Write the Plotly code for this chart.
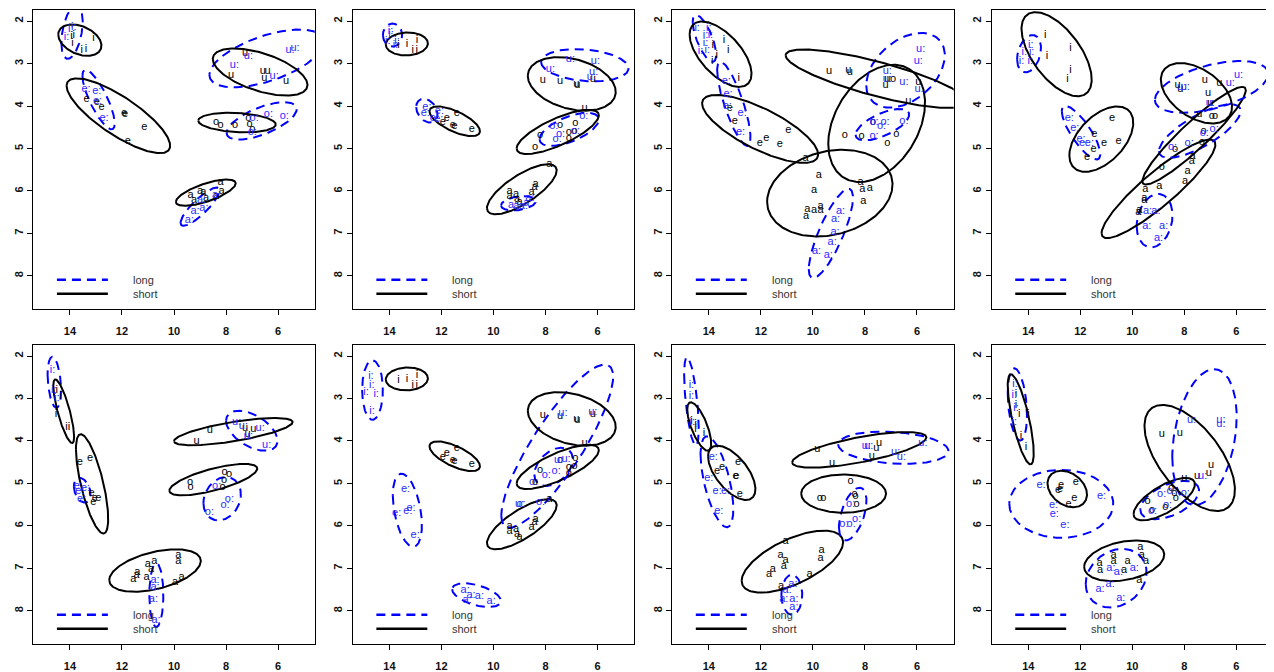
import numpy as np
import plotly.graph_objects as go

VOWELS = ["i", "e", "a", "o", "u"]
X_TICKS = [14, 12, 10, 8, 6]
Y_TICKS = [2, 3, 4, 5, 6, 7, 8]
X_RANGE = [15.41, 4.59]
Y_RANGE = [8.77, 1.74]
LEGEND_LABELS = ["long", "short"]

# ---------- Panel 1 ----------
p1_short = {
    "i": ([13.94, 13.85, 13.90, 13.10, 13.55, 13.38], [2.37, 2.33, 2.52, 2.41, 2.68, 2.66]),
    "e": ([13.36, 12.97, 12.78, 11.92, 11.88, 11.14, 11.78], [3.83, 3.91, 4.02, 4.16, 4.19, 4.50, 4.83]),
    "a": ([9.36, 9.0, 8.87, 8.21, 8.17, 8.77, 9.23, 8.38], [6.09, 6.0, 6.02, 5.80, 6.0, 6.18, 6.22, 6.12]),
    "o": ([8.38, 8.21, 7.65, 7.14, 7.10, 6.99], [4.38, 4.45, 4.46, 4.28, 4.44, 4.55]),
    "u": ([7.27, 7.81, 6.59, 6.40, 6.53, 5.69], [2.76, 3.28, 3.19, 3.19, 3.34, 3.42]),
}
p1_long = {
    "i": ([13.97, 13.85, 14.13], [2.20, 2.15, 2.38]),
    "e": ([13.38, 12.97, 12.94, 12.69], [3.60, 3.66, 3.90, 4.28]),
    "a": ([8.94, 9.19, 9.41, 8.85, 8.36], [6.23, 6.48, 6.69, 6.41, 6.10]),
    "o": ([6.37, 5.76, 6.92, 6.99], [4.20, 4.24, 4.30, 4.62]),
    "u": ([5.54, 5.35, 7.68, 7.14, 6.15], [2.68, 2.64, 3.05, 2.84, 3.30]),
}
# ellipse: centre x, centre y, half-width x, half-height y, correlation
p1_ell_short = {"i": (13.62, 2.45, 0.83, 0.37, -0.35), "e": (12.14, 4.23, 1.99, 0.88, -0.8),
                "a": (8.78, 6.04, 1.15, 0.31, 0.7), "o": (7.58, 4.39, 1.49, 0.23, -0.2),
                "u": (6.69, 3.20, 1.82, 0.555, -0.55)}
p1_ell_long = {"i": (13.92, 2.26, 0.41, 0.63, 0.4), "e": (12.9, 3.85, 0.62, 0.70, -0.8),
               "a": (9.0, 6.37, 0.75, 0.45, 0.85), "o": (6.63, 4.35, 1.35, 0.44, 0.64),
               "u": (6.44, 2.88, 2.2, 0.68, 0.57)}

# ---------- Panel 2 ----------
p2_short = {
    "i": ([13.65, 13.32, 13.10, 12.94, 12.95], [2.56, 2.55, 2.68, 2.46, 2.68]),
    "e": ([11.41, 11.79, 11.95, 11.56, 11.50, 10.83], [4.16, 4.30, 4.38, 4.46, 4.48, 4.55]),
    "a": ([9.38, 9.38, 9.13, 9.09, 9.0, 8.54, 8.42, 8.38, 7.85], [6.0, 6.12, 6.08, 6.20, 6.27, 6.04, 5.92, 5.84, 5.38]),
    "o": ([8.21, 8.40, 7.44, 7.10, 6.85, 7.10, 6.88], [4.69, 4.97, 4.46, 4.62, 4.40, 4.77, 4.59]),
    "u": ([8.10, 7.44, 6.82, 6.78, 6.18, 6.50], [3.40, 3.42, 3.48, 3.51, 3.36, 4.05]),
}
p2_long = {
    "i": ([13.96, 13.94, 13.71, 14.06, 13.77], [2.25, 2.31, 2.48, 2.47, 2.56]),
    "e": ([12.56, 12.62, 12.27, 12.08, 12.10], [4.02, 4.18, 4.28, 4.13, 4.32]),
    "a": ([9.26, 9.06, 8.85, 8.68, 8.60], [6.34, 6.37, 6.35, 6.29, 6.16]),
    "o": ([7.68, 7.42, 7.55, 6.85, 6.53], [4.48, 4.67, 4.79, 4.59, 4.24]),
    "u": ([7.81, 7.04, 6.08, 6.15, 6.24], [3.13, 2.91, 2.94, 3.21, 3.32]),
}
p2_ell_short = {"i": (13.33, 2.54, 0.81, 0.27, 0.05), "e": (11.49, 4.36, 0.97, 0.35, -0.67),
                "a": (8.91, 5.96, 1.34, 0.59, 0.75), "o": (7.53, 4.61, 1.58, 0.52, 0.75),
                "u": (6.99, 3.48, 1.69, 0.63, -0.3)}
p2_ell_long = {"i": (13.88, 2.33, 0.37, 0.27, 0.0), "e": (12.56, 4.11, 0.41, 0.28, -0.3),
               "a": (9.04, 6.29, 0.67, 0.17, 0.3), "o": (7.09, 4.55, 1.14, 0.39, 0.6),
               "u": (6.49, 3.04, 1.68, 0.38, -0.2)}

# ---------- Panel 3 ----------
p3_short = {
    "i": ([13.42, 13.26, 13.85, 13.87, 12.85, 13.70], [2.45, 2.68, 2.56, 2.95, 3.34, 2.80]),
    "e": ([13.19, 13.0, 12.04, 11.79, 11.27, 10.95], [4.06, 4.36, 4.88, 4.75, 4.91, 4.57]),
    "a": ([10.28, 9.77, 9.96, 10.22, 9.96, 9.71, 9.71, 10.26, 8.17, 8.10, 7.81, 8.06],
          [5.22, 5.63, 5.98, 6.43, 6.45, 6.45, 6.37, 6.60, 5.79, 5.95, 5.93, 6.25]),
    "o": ([8.77, 8.13, 7.69, 7.14, 6.79, 6.92], [4.70, 4.71, 4.38, 4.88, 4.67, 3.36]),
    "u": ([9.38, 8.64, 8.58, 7.21, 5.95, 6.33, 7.14], [3.19, 3.16, 3.21, 3.52, 3.44, 3.88, 3.36]),
}
p3_long = {
    "i": ([14.0, 14.45, 14.13, 13.94, 14.13, 14.32, 14.06], [2.17, 2.17, 2.33, 2.33, 2.52, 2.72, 2.68]),
    "e": ([13.33, 13.26, 13.29, 12.72, 12.78], [3.42, 3.72, 4.01, 4.16, 4.61]),
    "a": ([8.94, 9.13, 9.15, 9.26, 9.86, 9.41], [6.47, 6.66, 6.98, 7.21, 7.43, 7.51]),
    "o": ([7.65, 7.36, 7.23, 6.50, 7.65], [4.38, 4.48, 4.38, 4.36, 4.71]),
    "u": ([5.86, 5.95, 7.14, 7.14, 6.50, 5.92], [2.66, 2.95, 3.19, 3.36, 3.45, 3.60]),
}
p3_ell_short = {"i": (13.55, 2.78, 1.19, 0.77, -0.6), "e": (12.03, 4.54, 2.23, 0.80, -0.75),
                "a": (9.35, 6.05, 2.41, 1.02, 0.2), "o": (7.55, 4.41, 1.86, 1.38, 0.35),
                "u": (7.55, 3.36, 3.5, 0.69, -0.8)}
p3_ell_long = {"i": (14.17, 2.41, 0.45, 0.55, -0.7), "e": (13.04, 3.95, 0.64, 0.99, -0.8),
               "a": (9.31, 7.0, 0.85, 1.05, 0.8), "o": (7.33, 4.44, 1.03, 0.37, 0.64),
               "u": (6.44, 3.16, 1.51, 0.88, 0.4)}

# ---------- Panel 4 ----------
p4_short = {
    "i": ([13.35, 12.38, 13.28, 12.38, 12.49], [2.33, 2.63, 2.84, 3.17, 3.38]),
    "e": ([10.78, 11.46, 11.49, 11.08, 10.53, 11.74], [4.28, 4.67, 5.02, 4.87, 4.83, 5.20]),
    "a": ([7.68, 7.71, 7.87, 7.97, 8.96, 9.50, 9.54, 9.54, 9.73, 9.77],
          [5.18, 5.31, 5.53, 5.77, 5.88, 5.95, 6.18, 6.23, 6.45, 6.51]),
    "o": ([8.35, 8.86, 7.26, 6.81, 6.94, 7.32], [5.02, 5.44, 4.59, 4.24, 4.24, 4.85]),
    "u": ([7.21, 7.08, 8.26, 8.15, 6.65, 7.0, 7.42], [3.40, 3.71, 3.52, 3.60, 3.46, 3.93, 4.19]),
}
p4_long = {
    "i": ([13.90, 14.15, 13.87, 14.26, 13.92], [2.56, 2.74, 2.74, 2.95, 2.95]),
    "e": ([12.42, 12.21, 11.97, 11.87, 11.65], [4.28, 4.52, 4.79, 4.88, 4.87]),
    "a": ([9.41, 9.09, 9.44, 8.79, 8.99], [6.47, 6.47, 6.82, 6.82, 7.12]),
    "o": ([8.45, 7.81, 7.23, 6.85], [4.98, 4.87, 4.63, 4.55]),
    "u": ([5.91, 6.23, 7.96, 8.10, 7.0], [3.27, 3.46, 3.55, 3.55, 3.93]),
}
p4_ell_short = {"i": (12.91, 2.78, 1.35, 0.99, -0.6), "e": (11.19, 4.78, 1.23, 0.77, 0.5),
                "a": (8.99, 5.95, 2.19, 1.16, 0.9), "o": (7.62, 4.70, 1.99, 1.15, 0.93),
                "u": (7.53, 3.70, 1.37, 0.71, -0.45)}
p4_ell_long = {"i": (13.97, 2.77, 0.46, 0.44, 0.3), "e": (11.97, 4.63, 0.74, 0.63, -0.8),
               "a": (9.14, 6.70, 0.69, 0.63, 0.2), "o": (7.40, 4.59, 1.57, 0.63, 0.75),
               "u": (6.95, 3.55, 2.18, 0.61, 0.5)}

# ---------- Panel 5 ----------
p5_short = {
    "i": ([14.51, 14.36, 14.54, 14.13, 14.04], [2.80, 2.94, 3.38, 3.68, 3.68]),
    "e": ([13.62, 13.23, 13.17, 13.04, 12.91, 13.10], [4.50, 4.40, 5.22, 5.34, 5.34, 5.45]),
    "a": ([11.56, 11.44, 11.41, 11.01, 10.88, 11.05, 10.76, 9.83, 9.83, 9.71, 9.96],
          [7.25, 7.15, 7.09, 6.91, 7.02, 7.21, 6.84, 6.70, 6.82, 7.20, 7.33]),
    "o": ([9.38, 9.36, 8.06, 7.88, 8.08, 8.13], [4.98, 5.09, 4.73, 4.79, 4.93, 5.09]),
    "u": ([8.62, 9.13, 7.27, 6.95, 7.17], [3.75, 4.01, 3.70, 3.72, 3.85]),
}
p5_long = {
    "i": ([14.67, 14.62, 14.51], [2.33, 2.80, 2.99]),
    "e": ([13.68, 13.62, 13.40, 13.55], [5.06, 5.18, 5.12, 5.38]),
    "a": ([10.73, 10.73, 10.79, 10.69], [7.29, 7.45, 7.72, 8.23]),
    "o": ([8.36, 7.87, 8.04, 8.64], [5.06, 5.38, 5.51, 5.67]),
    "u": ([7.59, 7.33, 6.69, 7.14, 6.44], [3.56, 3.66, 3.70, 3.89, 4.09]),
}
p5_ell_short = {"i": (14.24, 3.30, 0.40, 0.75, -0.8), "e": (13.15, 5.01, 0.62, 1.17, -0.7),
                "a": (10.73, 7.05, 1.76, 0.50, 0.45), "o": (8.49, 4.91, 1.69, 0.37, 0.7),
                "u": (7.72, 3.78, 2.28, 0.32, 0.7)}
p5_ell_long = {"i": (14.6, 2.62, 0.26, 0.60, -0.3), "e": (13.53, 5.16, 0.32, 0.29, -0.3),
               "a": (10.68, 7.63, 0.27, 0.75, 0.0), "o": (8.15, 5.36, 0.72, 0.51, 0.2),
               "u": (7.01, 3.76, 0.99, 0.47, -0.5)}

# ---------- Panel 6 (short vowels as panel 2) ----------
p6_short = p2_short
p6_long = {
    "i": ([14.71, 14.68, 14.90, 14.51, 14.67], [2.48, 2.68, 2.85, 2.91, 3.30]),
    "e": ([13.38, 13.72, 13.29, 13.17, 13.01], [5.14, 5.69, 5.65, 5.59, 6.22]),
    "a": ([11.09, 10.86, 10.54, 11.01, 10.09], [7.51, 7.62, 7.66, 7.76, 7.78]),
    "o": ([7.97, 7.59, 8.46, 8.19, 8.94], [4.80, 4.71, 4.97, 5.44, 5.49]),
    "u": ([7.33, 6.18, 7.50, 7.21, 9.0], [3.34, 3.32, 4.46, 4.44, 5.49]),
}
p6_ell_short = p2_ell_short
p6_ell_long = {"i": (14.65, 2.80, 0.40, 0.70, 0.0), "e": (13.31, 5.63, 0.56, 0.86, -0.4),
               "a": (10.65, 7.63, 0.94, 0.28, -0.5), "o": (7.69, 4.61, 0.74, 0.45, 0.4),
               "u": (7.55, 4.12, 2.15, 1.92, 0.85)}

# ---------- Panel 7 ----------
p7_short = {
    "i": ([14.67, 14.51, 14.19, 14.51], [3.54, 3.60, 3.81, 3.72]),
    "e": ([13.68, 13.49, 12.88, 12.97, 12.94, 12.81], [4.71, 4.63, 4.50, 4.83, 4.83, 5.26]),
    "a": ([11.05, 11.24, 11.05, 11.12, 11.54, 11.69, 10.13, 9.67, 9.71, 11.22],
          [6.37, 6.69, 6.80, 6.96, 7.02, 7.13, 7.13, 6.57, 6.76, 7.41]),
    "o": ([8.55, 9.73, 9.60, 8.36, 8.32, 8.40], [4.95, 5.34, 5.34, 5.30, 5.49, 5.25]),
    "u": ([9.83, 9.26, 7.74, 7.56, 7.46], [4.20, 4.52, 4.36, 4.16, 4.05]),
}
p7_long = {
    "i": ([14.67, 14.67, 14.64, 14.45], [2.68, 2.95, 3.55, 3.66]),
    "e": ([13.83, 14.0, 13.68, 13.36, 13.62], [4.38, 4.87, 5.18, 5.18, 5.65]),
    "a": ([10.77, 10.99, 11.12, 10.73, 10.73], [7.37, 7.52, 7.72, 7.72, 7.91]),
    "o": ([8.81, 8.53, 8.32, 8.55], [5.96, 5.95, 5.84, 5.49]),
    "u": ([7.85, 6.82, 6.60, 5.77, 7.95], [4.13, 4.26, 4.38, 4.05, 4.13]),
}
p7_ell_short = {"i": (14.37, 3.66, 0.46, 0.57, -0.7), "e": (13.12, 4.75, 0.91, 0.64, -0.6),
                "a": (10.79, 6.84, 1.95, 0.73, 0.62), "o": (8.82, 5.24, 1.63, 0.45, 0.0),
                "u": (8.22, 4.21, 2.58, 0.42, 0.7)}
p7_ell_long = {"i": (14.67, 3.07, 0.28, 1.04, -0.6), "e": (13.69, 4.96, 0.63, 1.07, -0.6),
               "a": (10.81, 7.62, 0.40, 0.47, 0.0), "o": (8.47, 5.72, 0.53, 0.62, 0.5),
               "u": (6.91, 4.16, 2.12, 0.38, -0.2)}

# ---------- Panel 8 ----------
p8_short = {
    "i": ([14.47, 14.47, 14.35, 13.99, 14.28, 14.09], [2.91, 3.17, 3.38, 3.38, 3.89, 4.15]),
    "e": ([12.78, 12.85, 12.74, 12.17, 12.45, 12.23], [5.13, 5.16, 5.04, 4.98, 5.48, 5.35]),
    "a": ([11.26, 11.24, 10.72, 10.72, 10.18, 10.31, 9.69, 9.63, 9.47, 9.73],
          [6.88, 7.05, 6.68, 6.82, 6.82, 7.04, 6.51, 6.69, 6.84, 7.27]),
    "o": ([9.41, 9.24, 8.73, 8.51, 8.38, 8.32], [5.41, 5.63, 5.57, 5.12, 5.22, 5.34]),
    "u": ([8.86, 8.17, 6.97, 7.05, 7.51, 8.0], [3.83, 3.81, 4.57, 4.75, 4.83, 4.88]),
}
p8_long = {
    "i": ([14.51, 14.54, 14.47, 14.54], [2.66, 2.93, 3.24, 3.55]),
    "e": ([13.51, 13.03, 13.0, 12.59, 11.18], [5.04, 5.51, 5.73, 5.98, 5.31]),
    "a": ([10.82, 10.53, 9.92, 11.24, 10.85, 10.44], [7.0, 7.08, 7.0, 7.48, 7.37, 7.70]),
    "o": ([8.87, 8.51, 8.64, 9.22, 7.96], [5.26, 5.18, 5.51, 5.65, 5.24]),
    "u": ([7.72, 6.59, 6.59, 7.29], [3.52, 3.52, 3.60, 4.83]),
}
p8_ell_short = {"i": (14.29, 3.49, 0.50, 1.06, -0.75), "e": (12.5, 5.13, 0.76, 0.43, -0.3),
                "a": (10.31, 6.82, 1.54, 0.48, 0.3), "o": (8.77, 5.37, 1.18, 0.50, 0.7),
                "u": (7.79, 4.40, 1.74, 1.25, -0.6)}
p8_ell_long = {"i": (14.42, 3.14, 0.37, 0.85, -0.3), "e": (12.73, 5.48, 2.0, 0.80, 0.0),
               "a": (10.62, 7.23, 1.17, 0.69, 0.2), "o": (8.56, 5.39, 1.13, 0.45, 0.5),
               "u": (7.22, 3.91, 1.24, 1.60, 0.3)}

PANELS = [
    (p1_short, p1_long, p1_ell_short, p1_ell_long),
    (p2_short, p2_long, p2_ell_short, p2_ell_long),
    (p3_short, p3_long, p3_ell_short, p3_ell_long),
    (p4_short, p4_long, p4_ell_short, p4_ell_long),
    (p5_short, p5_long, p5_ell_short, p5_ell_long),
    (p6_short, p6_long, p6_ell_short, p6_ell_long),
    (p7_short, p7_long, p7_ell_short, p7_ell_long),
    (p8_short, p8_long, p8_ell_short, p8_ell_long),
]

# ---------- styling ----------
PAGE_OFF = 8            # default body margin of the html page
W, H = 1274 - PAGE_OFF, 672 - PAGE_OFF
BLUE = "#0000ff"
BLUE_TXT = "#2a2aff"
BLACK_TXT = "#000000"
FONT = "Liberation Sans, Arial, sans-serif"
DASH = "9px,6px"


def ellipse(cx, cy, sx, sy, rho, n=240):
    t = np.linspace(0, 2 * np.pi, n)
    x = cx + sx * np.cos(t)
    y = cy + sy * (rho * np.cos(t) + np.sqrt(1 - rho ** 2) * np.sin(t))
    return x, y


fig = go.Figure()
layout_axes = {}
panel_w = 281.7
for k, (short, long_, ell_s, ell_l) in enumerate(PANELS):
    row, col = divmod(k, 4)
    idx = "" if k == 0 else str(k + 1)
    xa, ya = "x" + idx, "y" + idx
    left = 33.3 + 319.7 * col - PAGE_OFF
    top = 10 + 336.5 * row - PAGE_OFF
    bottom = top + 300
    xd = [left / W, min((left + panel_w) / W, 0.9999)]
    yd = [1 - bottom / H, 1 - top / H]
    common = dict(showgrid=False, zeroline=False, showline=True, linecolor="black",
                  linewidth=1, mirror=True, ticks="outside", ticklen=5, tickwidth=1,
                  tickcolor="black",
                  tickfont=dict(family=FONT, size=11, color="#111", weight="bold"))
    layout_axes["xaxis" + idx] = dict(common, domain=xd, range=X_RANGE, tickvals=X_TICKS,
                                      anchor=ya, ticklabelstandoff=7)
    layout_axes["yaxis" + idx] = dict(common, domain=yd, range=Y_RANGE, tickvals=Y_TICKS,
                                      anchor=xa, tickangle=-90, ticklabelstandoff=0)

    for v in VOWELS:
        ex, ey = ellipse(*ell_l[v])
        fig.add_trace(go.Scatter(x=ex, y=ey, mode="lines", xaxis=xa, yaxis=ya,
                                 line=dict(color=BLUE, width=2, dash=DASH),
                                 hoverinfo="skip", showlegend=False))
        ex, ey = ellipse(*ell_s[v])
        fig.add_trace(go.Scatter(x=ex, y=ey, mode="lines", xaxis=xa, yaxis=ya,
                                 line=dict(color="black", width=2),
                                 hoverinfo="skip", showlegend=False))
    for v in VOWELS:
        xs, ys = short[v]
        fig.add_trace(go.Scatter(x=xs, y=ys, mode="text", text=[v] * len(xs),
                                 textfont=dict(family=FONT, size=11, color=BLACK_TXT),
                                 xaxis=xa, yaxis=ya, showlegend=False))
        xs, ys = long_[v]
        fig.add_trace(go.Scatter(x=xs, y=ys, mode="text", text=[v + ":"] * len(xs),
                                 textfont=dict(family=FONT, size=11, color=BLUE_TXT),
                                 xaxis=xa, yaxis=ya, showlegend=False))

    # legend (inside bottom-left)
    xr, yr = xa + " domain", ya + " domain"
    fig.add_shape(type="line", xref=xr, yref=yr, x0=0.084, x1=0.265, y0=0.097, y1=0.097,
                  line=dict(color=BLUE, width=2.5, dash=DASH))
    fig.add_shape(type="line", xref=xr, yref=yr, x0=0.084, x1=0.265, y0=0.05, y1=0.05,
                  line=dict(color="black", width=2.5))
    for lab, yy in zip(LEGEND_LABELS, [0.097, 0.05]):
        fig.add_annotation(xref=xr, yref=yr, x=0.347, y=yy, text=lab, showarrow=False,
                           xanchor="left", yanchor="middle",
                           font=dict(family=FONT, size=11, color="#333"))

fig.update_layout(width=W, height=H, margin=dict(l=0, r=0, t=0, b=0),
                  paper_bgcolor="white", plot_bgcolor="white", showlegend=False,
                  **layout_axes)
fig.write_html("out.html")
